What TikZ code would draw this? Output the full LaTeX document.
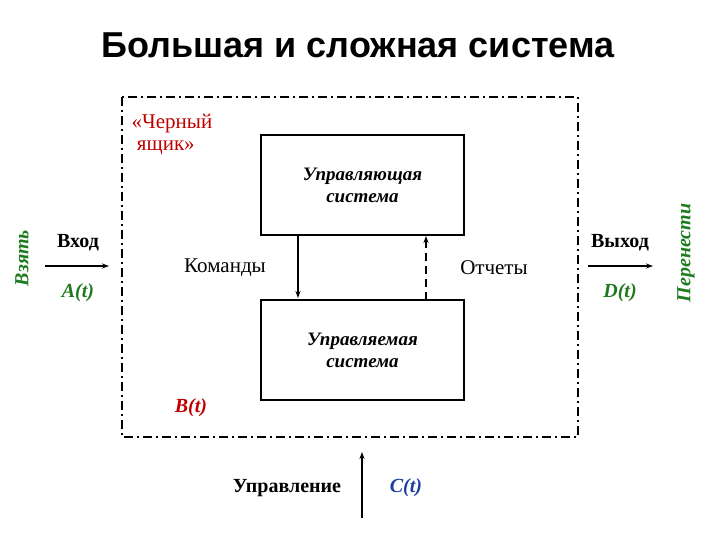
\documentclass[tikz,border=0pt]{standalone}
\usepackage{fontspec}
\usetikzlibrary{arrows.meta}
\setmainfont{Liberation Serif}
\newfontfamily\titlefont{Liberation Sans}
\definecolor{lred}{HTML}{C00000}
\definecolor{lgreen}{HTML}{1E7A1E}
\definecolor{lblue}{HTML}{1F3FA0}
\begin{document}
\begin{tikzpicture}[x=1pt,y=-1pt,
  box/.style={draw,line width=1.4pt},
  lbl/.style={font=\fontsize{21}{22}\selectfont},
  blbl/.style={font=\fontsize{20}{22}\selectfont\bfseries},
  il/.style={font=\fontsize{20}{22}\selectfont\bfseries\itshape},
  arr/.style={-{Stealth[length=7pt,width=5pt]},line width=1.2pt}]
\useasboundingbox (0,0) rectangle (720,540);
\node (title) at (358,45) {\titlefont\fontsize{36}{40}\selectfont\bfseries Большая и сложная система};
\draw[line width=1.5pt,dash pattern=on 9pt off 4pt on 2pt off 4pt] (122,97) rectangle (578,437);
\node[box,minimum width=203,minimum height=100] (top) at (362.5,185) {};
\node[box,minimum width=203,minimum height=100] (bot) at (362.5,350) {};
\node[align=center,il,font=\fontsize{19}{22}\selectfont\bfseries\itshape] at (top) {Управляющая\\система};
\node[align=center,il,font=\fontsize{19}{22}\selectfont\bfseries\itshape] at (bot) {Управляемая\\система};
\node[lbl,text=lred,align=left] (bb) at (172,134) {«Черный\\\ ящик»};
\coordinate (d1) at (298,235); \coordinate (d2) at (298,298);
\draw[arr] (d1) -- (d2);
\coordinate (u1) at (426,300); \coordinate (u2) at (426,236);
\draw[arr,dash pattern=on 8pt off 5pt] (u1) -- (u2);
\node[lbl] (cmd) at (225,268) {Команды};
\node[lbl] (rep) at (494,268) {Отчеты};
\coordinate (i1) at (45,266); \coordinate (i2) at (109,266);
\draw[arr] (i1) -- (i2);
\node[blbl] (vin) at (78,243) {Вход};
\node[il,text=lgreen] (at) at (78,293) {A(t)};
\coordinate (o1) at (588,266); \coordinate (o2) at (653,266);
\draw[arr] (o1) -- (o2);
\node[blbl] (vout) at (620,243) {Выход};
\node[il,text=lgreen] (dt) at (620,293) {D(t)};
\node[il,text=lgreen,rotate=90] (take) at (22,258) {Взять};
\node[il,text=lgreen,rotate=90] (move) at (686,253) {Перенести};
\node[il,text=lred] (bt) at (191,408) {B(t)};
\coordinate (c1) at (362,518); \coordinate (c2) at (362,452);
\draw[arr] (c1) -- (c2);
\node[blbl] (ctl) at (287,488) {Управление};
\node[il,text=lblue] (ct) at (406,488) {C(t)};
\end{tikzpicture}
\end{document}
